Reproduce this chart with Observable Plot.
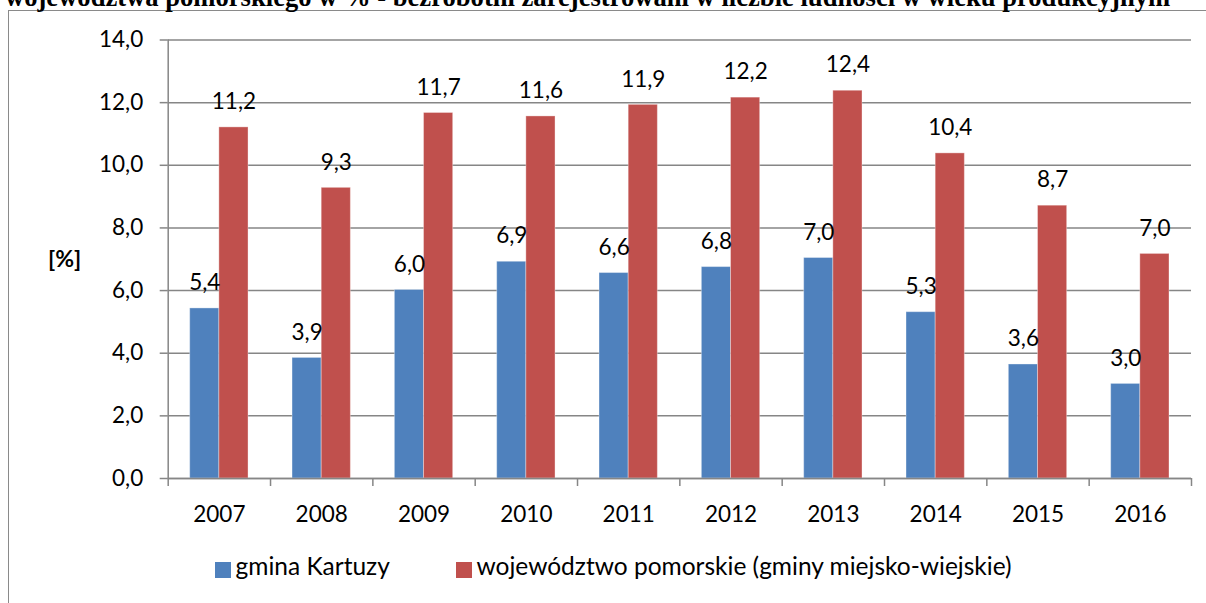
<!DOCTYPE html>
<html>
<head>
<meta charset="utf-8">
<script src="https://cdn.jsdelivr.net/npm/d3@7"></script>
<script src="https://cdn.jsdelivr.net/npm/@observablehq/plot@0.6"></script>
<style>
  html, body { margin: 0; padding: 0; background: #fff; }
  body { position: relative; width: 1206px; height: 603px; overflow: hidden; font-family: Lato, "Open Sans", sans-serif; }
  #frame { position: absolute; left: 8px; top: 9.5px; width: 1400px; height: 800px; border-left: 1.5px solid #8a8a8a; border-top: 1.5px solid #8a8a8a; }
  #title { position: absolute; left: 5px; top: -18.5px; white-space: nowrap; font-family: "Liberation Serif", "Times New Roman", serif; font-weight: bold; font-size: 26.6px; line-height: 30px; color: #000; }
  #chart { position: absolute; left: 0; top: 0; }
  .sw { position: absolute; width: 15.5px; height: 15.5px; top: 562px; }
  .lt { position: absolute; top: 552px; font-size: 24.5px; line-height: 28px; color: #000; white-space: nowrap; }
</style>
</head>
<body>
<div id="frame"></div>
<div id="title"></div>
<div id="chart"></div>
<div id="legend"></div>
<script>
// ---- data ----
const titleText = "województwa pomorskiego w % - bezrobotni zarejestrowani w liczbie ludności w wieku produkcyjnym";
const years = [2007, 2008, 2009, 2010, 2011, 2012, 2013, 2014, 2015, 2016];
const seriesNames = ["gmina Kartuzy", "województwo pomorskie (gminy miejsko-wiejskie)"];
const kartuzyValues = [5.43, 3.85, 6.02, 6.92, 6.56, 6.75, 7.04, 5.31, 3.64, 3.02];
const pomorskieValues = [11.21, 9.28, 11.67, 11.56, 11.93, 12.16, 12.38, 10.38, 8.71, 7.17];
const kartuzyLabels = ["5,4", "3,9", "6,0", "6,9", "6,6", "6,8", "7,0", "5,3", "3,6", "3,0"];
const pomorskieLabels = ["11,2", "9,3", "11,7", "11,6", "11,9", "12,2", "12,4", "10,4", "8,7", "7,0"];
const yTicks = [0, 2, 4, 6, 8, 10, 12, 14];
const yLabel = "[%]";
const colors = ["#4F81BD", "#C0504D"];

// ---- build ----
document.getElementById("title").textContent = titleText;

const barW = 0.285; // bar width as fraction of a category step
const rows = years.map((year, i) => ({
  year, k: kartuzyValues[i], p: pomorskieValues[i], kl: kartuzyLabels[i], pl: pomorskieLabels[i]
}));
const bounds = d3.range(years[0] - 0.5, years[years.length - 1] + 0.51, 1);
const gridColor = "#868686";
const fmt = d => d.toFixed(1).replace(".", ",");

const chart = Plot.plot({
  width: 1206,
  height: 540,
  marginLeft: 167.7,
  marginRight: 15,
  marginTop: 39.5,
  marginBottom: 62,
  style: { fontFamily: "Lato, 'Open Sans', sans-serif", fontSize: "22.5px", color: "#000", background: "transparent", overflow: "visible" },
  x: { type: "linear", domain: [bounds[0], bounds[bounds.length - 1]], axis: null },
  y: { domain: [0, 14], axis: null },
  marks: [
    Plot.gridY(yTicks, { stroke: gridColor, strokeOpacity: 1, strokeWidth: 1.5 }),
    Plot.rectY(rows, { x1: d => d.year - barW, x2: d => d.year, y1: 0, y2: "k", fill: colors[0], stroke: "#ffffff", strokeOpacity: 0.35, strokeWidth: 1 }),
    Plot.rectY(rows, { x1: d => d.year, x2: d => d.year + barW, y1: 0, y2: "p", fill: colors[1], stroke: "#ffffff", strokeOpacity: 0.35, strokeWidth: 1 }),
    Plot.ruleY([0], { stroke: gridColor, strokeWidth: 1.5 }),
    Plot.ruleX([bounds[0]], { y1: 0, y2: 14, stroke: gridColor, strokeWidth: 1.5 }),
    Plot.axisY({ ticks: yTicks, tickFormat: fmt, tickSize: 8, tickPadding: 17, stroke: gridColor, strokeWidth: 1.5, strokeOpacity: 1, label: null, fill: "#000" }),
    Plot.axisX({ ticks: bounds, tickFormat: () => "", tickSize: 8, stroke: gridColor, strokeWidth: 1.5, strokeOpacity: 1, label: null }),
    Plot.axisX({ ticks: years, tickFormat: d => String(d), tickSize: 0, tickPadding: 28, label: null, fill: "#000" }),
    Plot.text(rows, { x: d => d.year - barW / 2, y: "k", text: "kl", dy: -25.5, fill: "#000" }),
    Plot.text(rows, { x: d => d.year + barW / 2, y: "p", text: "pl", dy: -25.5, fill: "#000" }),
    Plot.text([yLabel], { frameAnchor: "left", text: d => d, dx: -103.5, textAnchor: "middle", fontWeight: "bold", fontSize: 23, fill: "#000" })
  ]
});
document.getElementById("chart").appendChild(chart);

// legend
const legend = document.getElementById("legend");
const legendLefts = [215, 456];
seriesNames.forEach((name, i) => {
  const sw = document.createElement("div");
  sw.className = "sw";
  sw.style.left = legendLefts[i] + "px";
  sw.style.background = colors[i];
  legend.appendChild(sw);
  const t = document.createElement("div");
  t.className = "lt";
  t.style.left = (legendLefts[i] + 20.5) + "px";
  t.textContent = name;
  legend.appendChild(t);
});
</script>
</body>
</html>
